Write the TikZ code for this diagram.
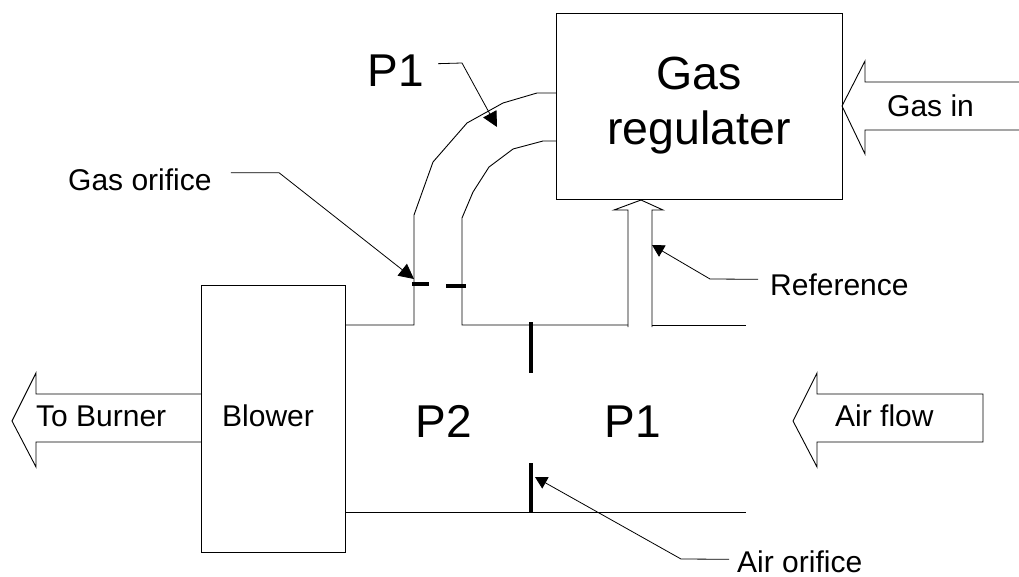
\documentclass[tikz,border=0pt]{standalone}
\usepackage{fontspec}
\setmainfont{Liberation Sans}
\usetikzlibrary{arrows.meta}
\tikzset{
	wall/.style={line width=0.9pt, line join=miter},
	orifice/.style={line width=3.6pt},
	leader/.style={line width=0.8pt, -{Triangle[length=12pt,width=13pt]}},
	bigleader/.style={line width=0.8pt, -{Triangle[length=15pt,width=15pt]}},
	block/.style={draw, wall, rectangle, outer sep=0pt, inner sep=0pt, align=center},
	smalltext/.style={inner sep=0pt, anchor=base west, font=\fontsize{30}{36}\selectfont},
	bigtext/.style={inner sep=0pt, anchor=base west, font=\fontsize{46}{55}\selectfont}
}
\begin{document}
\begin{tikzpicture}[x=1pt, y=-1pt]
	\useasboundingbox (0,0) rectangle (1019,577);
	
	%Blocks
	\node (GasRegulater) at (699,106) [block, minimum width=286pt, minimum height=186pt, font=\fontsize{46.5}{55}\selectfont]{Gas\\regulater};
	\node (Blower) at (273,418.5) [block, minimum width=144pt, minimum height=267pt, text depth=6.5pt, font=\fontsize{30}{36}\selectfont]{Blower\hspace{10pt}};
	
	%Labels
	\node (ToBurnerLabel) at (36,426) [smalltext]{To Burner};
	\node (AirFlowLabel) at (835,426) [smalltext]{Air flow};
	\node (GasInLabel) at (887,117) [smalltext]{Gas in};
	\node (ReferenceLabel) at (770,295) [smalltext]{Reference};
	\node (AirOrificeLabel) at (737,572) [smalltext]{Air orifice};
	\node (GasOrificeLabel) at (68,191) [smalltext]{Gas orifice};
	\node (PipeP1Label) at (367.5,87) [bigtext]{P1};
	\node (AirP1Label) at (604.5,437) [bigtext]{P1};
	\node (AirP2Label) at (415.5,437) [bigtext]{P2};
	
	%Gas pipe
	\draw[wall] (GasRegulater.west |- 0,93) -- (537,93) -- (503,103) -- (467,123) -- (433,162) -- (414,215) -- (414,325) -- (Blower.east |- 0,325);
	\draw[wall] (GasRegulater.west |- 0,141) -- (543,141) -- (513,149) -- (489,167) -- (473,192) -- (462,218) -- (462,325) -- (628,325);
	
	%Air duct
	\draw[wall] (652,325) -- (746,325);
	\draw[wall] (Blower.east |- 0,512) -- (746,512);
	
	%Orifices
	\draw[orifice] (531,322) -- (531,373);
	\draw[orifice] (531,463) -- (531,513);
	\draw[orifice] (412,284) -- (429,284);
	\draw[orifice] (446,286) -- (466,286);
	
	%Block arrows
	\draw[wall] (Blower.west |- 0,394) -- (36,394) -- (36,373) -- (12,421) -- (36,467) -- (36,442) -- (Blower.west |- 0,442);
	\draw[wall] (1019,82) -- (865,82) -- (865,61) -- (GasRegulater.east |- 0,106) -- (865,154) -- (865,130) -- (1019,130);
	\draw[wall] (817,394) -- (817,373) -- (793,421) -- (817,467) -- (817,442) -- (983,442) -- (983,394) -- cycle;
	\draw[wall] (628,327) -- (628,210) -- (614,210) -- (641,200) -- (663,210) -- (652,210) -- (652,327);
	
	%Leaders
	\coordinate (GasOrificeTip) at (414,279);
	\coordinate (PipeP1Tip) at (497,127);
	\coordinate (ReferenceTip) at (652,245);
	\coordinate (AirOrificeTip) at (535,477);
	\draw[bigleader] ([shift={(19pt,7.6pt)}]GasOrificeLabel.east) -- (279,172.7) -- (GasOrificeTip);
	\draw[bigleader] ([shift={(14pt,7.5pt)}]PipeP1Label.east) -- (462,63) -- (PipeP1Tip);
	\draw[leader] ([shift={(-12pt,5pt)}]ReferenceLabel.west) -- (710,279) -- (ReferenceTip);
	\draw[leader] ([shift={(-8pt,2pt)}]AirOrificeLabel.west) -- (681,559) -- (AirOrificeTip);
	
\end{tikzpicture}
\end{document}
